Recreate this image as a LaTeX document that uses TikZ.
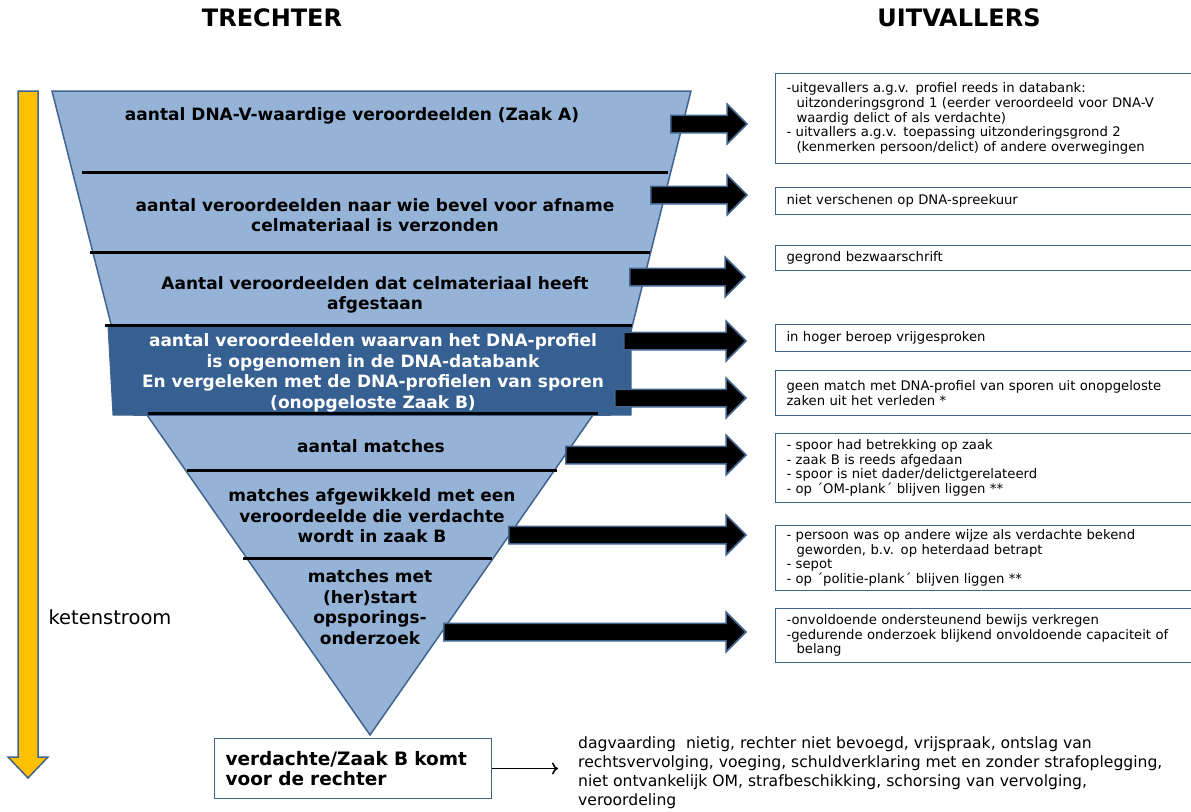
\documentclass[tikz,border=0pt]{standalone}
\usepackage{fontspec}
\setmainfont{DejaVu Sans}
\usetikzlibrary{shapes.arrows,arrows.meta}
\definecolor{trechter}{HTML}{95B3D7}
\definecolor{donker}{HTML}{376092}
\definecolor{rand}{HTML}{41648F}
\definecolor{oranje}{HTML}{FFC000}

\begin{document}
\begin{tikzpicture}[x=1pt, y=-1pt,
  tekst/.style={font=\fontsize{17}{20.5}\selectfont\bfseries, align=center},
  uitval/.style={shape=rectangle, draw=rand, line width=1pt, anchor=north west, inner xsep=11pt, text width=420pt, align=left, font=\fontsize{13.2}{14.6}\selectfont},
  pijl/.style={shape=single arrow, fill=black, draw=rand, line width=1.5pt, inner sep=8pt, single arrow head extend=11pt, anchor=tip},
  scheiding/.style={line width=3pt}]
\useasboundingbox (0,0) rectangle (1191,811);

\node [font=\fontsize{24}{28}\selectfont\bfseries] (kop1) at (272,18) {TRECHTER};
\node [font=\fontsize{24}{28}\selectfont\bfseries] (kop2) at (959,18) {UITVALLERS};

\filldraw [fill=oranje, draw=rand, line width=1.5pt] (18,91) -- (38,91) -- (38,757) -- (48,757) -- (28,778) -- (8,757) -- (18,757) -- cycle;
\node [font=\fontsize{19.5}{23}\selectfont] (stroom) at (110,617) {ketenstroom};

\filldraw [fill=trechter, draw=rand, line width=1.5pt] (52,91) -- (691,91) -- (610,415) -- (134,415) -- cycle;
\filldraw [fill=trechter, draw=rand, line width=1.5pt] (147,415) -- (593,415) -- (370,735) -- cycle;
\filldraw [fill=donker, draw=rand, line width=1pt] (108,326) -- (631,326) -- (631,415) -- (113,415) -- cycle;

\draw [scheiding] (82,172) -- (668,172);
\draw [scheiding] (90,252) -- (650,252);
\draw [scheiding] (105,325) -- (632,325);
\draw [scheiding] (148,413) -- (598,413);
\draw [scheiding] (187,470) -- (557,470);
\draw [scheiding] (243,558) -- (492,558);

\node [tekst] (t1) at (352,116) {aantal DNA-V-waardige veroordeelden (Zaak A)};
\node [tekst] (t2) at (375,215) {aantal veroordeelden naar wie bevel voor afname\\celmateriaal is verzonden};
\node [tekst] (t3) at (375,295) {Aantal veroordeelden dat celmateriaal heeft\\afgestaan};
\node [tekst, text=white] (t4) at (373,373) {aantal veroordeelden waarvan het DNA-profiel\\is opgenomen in de DNA-databank\\En vergeleken met de DNA-profielen van sporen\\(onopgeloste Zaak B)};
\node [tekst] (t5) at (371,446) {aantal matches};
\node [tekst] (t6) at (372,516) {matches afgewikkeld met een\\veroordeelde die verdachte\\wordt in zaak B};
\node [tekst] (t7) at (370,607) {matches met\\(her)start\\opsporings-\\onderzoek};

\node [uitval, minimum height=90pt] (b1) at (775,73) {-uitgevallers a.g.v. profiel reeds in databank:\\\hspace*{10pt}uitzonderingsgrond 1 (eerder veroordeeld voor DNA-V\\\hspace*{10pt}waardig delict of als verdachte)\\- uitvallers a.g.v. toepassing uitzonderingsgrond 2\\\hspace*{10pt}(kenmerken persoon/delict) of andere overwegingen};
\node [uitval, minimum height=27pt] (b2) at (775,187) {niet verschenen op DNA-spreekuur};
\node [uitval, minimum height=25pt] (b3) at (775,245) {gegrond bezwaarschrift};
\node [uitval, minimum height=27pt] (b4) at (775,324) {in hoger beroep vrijgesproken};
\node [uitval, minimum height=45pt] (b5) at (775,370) {geen match met DNA-profiel van sporen uit onopgeloste\\zaken uit het verleden *};
\node [uitval, minimum height=69pt] (b6) at (775,433) {- spoor had betrekking op zaak\\- zaak B is reeds afgedaan\\- spoor is niet dader/delictgerelateerd\\- op ´OM-plank´ blijven liggen **};
\node [uitval, minimum height=65pt] (b7) at (775,525) {- persoon was op andere wijze als verdachte bekend\\\hspace*{10pt}geworden, b.v. op heterdaad betrapt\\- sepot\\- op ´politie-plank´ blijven liggen **};
\node [uitval, minimum height=54pt] (b8) at (775,608) {-onvoldoende ondersteunend bewijs verkregen\\-gedurende onderzoek blijkend onvoldoende capaciteit of\\\hspace*{10pt}belang};

\node [pijl, minimum height=76pt] (p1) at (748,124) {};
\node [pijl, minimum height=96pt] (p2) at (748,195) {};
\node [pijl, minimum height=115pt] (p3) at (746,277) {};
\node [pijl, minimum height=122pt] (p4) at (747,341) {};
\node [pijl, minimum height=131pt] (p5) at (747,398) {};
\node [pijl, minimum height=180pt] (p6) at (747,455) {};
\node [pijl, minimum height=237pt] (p7) at (747,535) {};
\node [pijl, minimum height=302pt] (p8) at (747,632) {};

\node [shape=rectangle, draw=rand, line width=1pt, fill=white, anchor=north west, minimum height=60pt, text width=255pt, inner xsep=11pt, align=left, font=\fontsize{18.5}{20}\selectfont\bfseries] (rechter) at (214,738) {verdachte/Zaak B komt\\voor de rechter};
\node [anchor=west, inner sep=0pt, align=left, font=\fontsize{15.6}{19}\selectfont] (uitkomst) at (578,773) {dagvaarding\ \ nietig, rechter niet bevoegd, vrijspraak, ontslag van\\rechtsvervolging, voeging, schuldverklaring met en zonder strafoplegging,\\niet ontvankelijk OM, strafbeschikking, schorsing van vervolging,\\veroordeling};

\draw [-{To[length=6pt, width=12pt]}, line width=1.5pt, shorten >=20pt] (rechter.east) -- (rechter.east -| uitkomst.west);
\end{tikzpicture}
\end{document}
